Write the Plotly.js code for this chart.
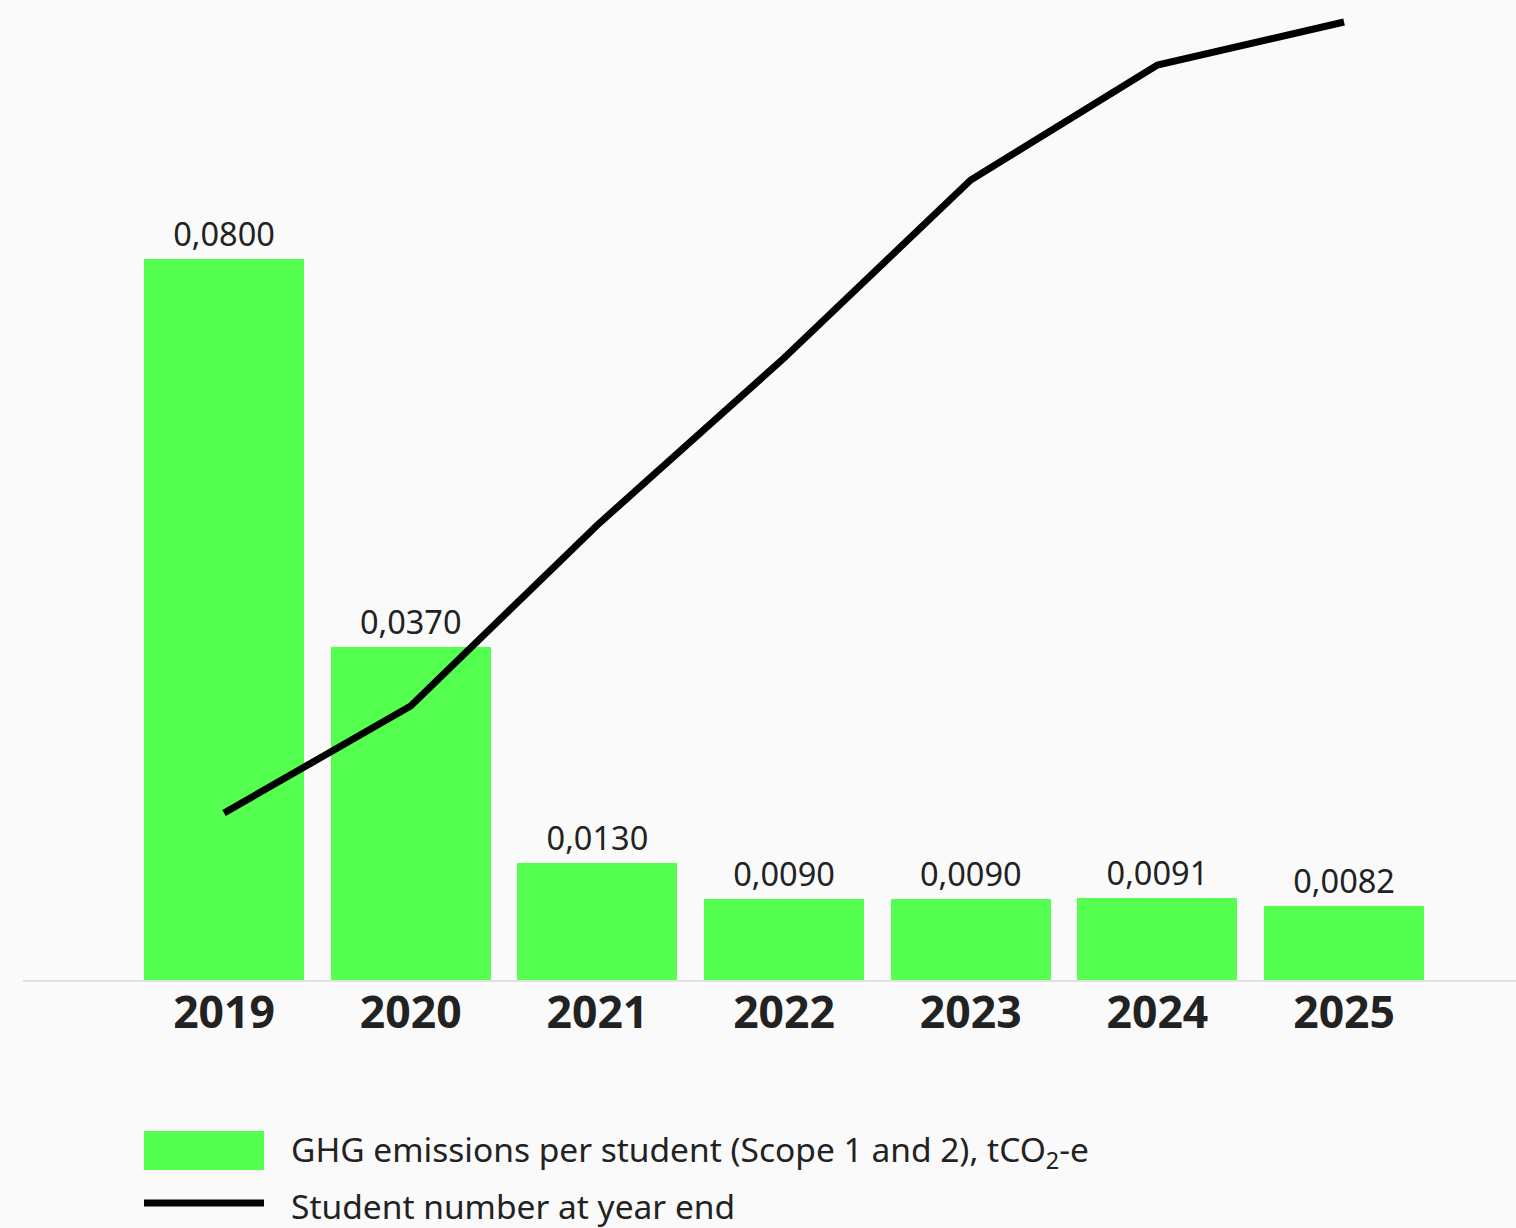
<!DOCTYPE html>
<html>
<head>
<meta charset="utf-8">
<script src="https://cdn.plot.ly/plotly-3.0.1.min.js"></script>
<style>html,body{margin:0;padding:0;background:#fafafa;}#chart{width:1516px;height:1228px;}</style>
</head>
<body>
<div id="chart"></div>
<script>
const years = ["2019", "2020", "2021", "2022", "2023", "2024", "2025"];
const ghgPerStudent = [0.0800, 0.0370, 0.0130, 0.0090, 0.0090, 0.0091, 0.0082];
const studentNumbers = [16700, 27400, 45500, 62200, 80000, 91500, 95800];
const legendLabels = ["GHG emissions per student (Scope 1 and 2), tCO<sub>2</sub>-e", "Student number at year end"];

const FONT = "'Noto Sans', Lato, sans-serif";
const W = 1516, H = 1228, L = 23, T = 0, B = 248;
const pw = W - L, ph = H - T - B;
const px = v => (v - L) / pw;
const py = v => (H - B - v) / ph;

const traces = [
  {
    type: "bar", x: years, y: ghgPerStudent,
    marker: {color: "#55ff4f"}, width: 0.857,
    texttemplate: "%{y:.4f}", textposition: "outside", cliponaxis: false,
    textfont: {family: FONT, size: 32.5, color: "#222"},
    hoverinfo: "skip", showlegend: false
  },
  {
    type: "scatter", mode: "lines", x: years, y: studentNumbers, yaxis: "y2",
    line: {color: "#000", width: 7}, hoverinfo: "skip", showlegend: false
  }
];

const layout = {
  width: W, height: H,
  margin: {l: L, r: 0, t: T, b: B},
  paper_bgcolor: "#fafafa", plot_bgcolor: "#fafafa",
  separators: ", ",
  font: {family: FONT, color: "#222"},
  bargap: 0,
  xaxis: {
    type: "category", range: [-1.077, 6.921],
    showline: true, linecolor: "#e0e0e0", linewidth: 2,
    showgrid: false, ticks: "", zeroline: false,
    tickfont: {family: FONT, size: 44.5, color: "#222", weight: "bold"},
    ticklabelstandoff: -7
  },
  yaxis: {range: [0, 0.10874], visible: false, showgrid: false, zeroline: false},
  yaxis2: {range: [0, 98000], overlaying: "y", visible: false, showgrid: false, zeroline: false},
  shapes: [
    {type: "rect", xref: "paper", yref: "paper", x0: px(144), x1: px(264), y0: py(1170), y1: py(1131), fillcolor: "#55ff4f", line: {width: 0}},
    {type: "line", xref: "paper", yref: "paper", x0: px(144), x1: px(264), y0: py(1203), y1: py(1203), line: {color: "#000", width: 7}}
  ],
  annotations: [
    {xref: "paper", yref: "paper", x: px(289), y: py(1151), xanchor: "left", yanchor: "middle", showarrow: false, text: legendLabels[0], font: {family: FONT, size: 33.5, color: "#222"}},
    {xref: "paper", yref: "paper", x: px(289), y: py(1206), xanchor: "left", yanchor: "middle", showarrow: false, text: legendLabels[1], font: {family: FONT, size: 33.5, color: "#222"}}
  ]
};

Plotly.newPlot("chart", traces, layout, {displayModeBar: false, staticPlot: true});
</script>
</body>
</html>
